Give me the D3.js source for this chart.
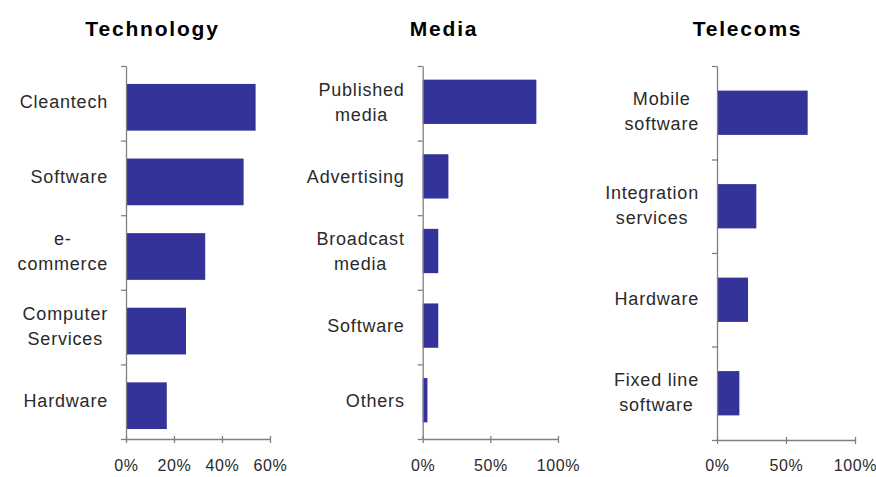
<!DOCTYPE html>
<html>
<head>
<meta charset="utf-8">
<script src="https://cdn.jsdelivr.net/npm/d3@7"></script>
<style>
  html, body { margin: 0; padding: 0; background: #fff; }
  svg { display: block; }
  .title { font-family: "Liberation Sans", Arial, sans-serif; font-weight: bold; font-size: 21px; letter-spacing: 1.8px; fill: #000; }
  .cat { font-family: "Liberation Sans", Arial, sans-serif; font-size: 18px; letter-spacing: 0.8px; fill: #2a2a2a; }
  .axis path, .axis line { stroke: #808080; stroke-width: 1.3px; }
  .axis text { font-family: "Liberation Sans", Arial, sans-serif; font-size: 16px; letter-spacing: 0.6px; fill: #2a2a2a; }
</style>
</head>
<body>
<svg id="chart" width="876" height="477"></svg>
<script>
// Sector breakdowns, shares in percent
const techCategories = ["Cleantech", "Software", "e-\ncommerce", "Computer\nServices", "Hardware"];
const techValues = [54, 49, 33, 25, 17];
const techTicks = [0, 20, 40, 60];

const mediaCategories = ["Published\nmedia", "Advertising", "Broadcast\nmedia", "Software", "Others"];
const mediaValues = [84, 19, 11.5, 11.5, 3.5];
const mediaTicks = [0, 50, 100];

const telecomCategories = ["Mobile\nsoftware", "Integration\nservices", "Hardware", "Fixed line\nsoftware"];
const telecomValues = [65.7, 28.5, 22.5, 16.2];
const telecomTicks = [0, 50, 100];

const panelTitles = ["Technology", "Media", "Telecoms"];

// Panel layout
const panels = [
  { title: panelTitles[0], cats: techCategories, vals: techValues, ticks: techTicks,
    x0: 126, x1: 270, top: 66, bottom: 439, titleX: 152.5, barH: 46.7, barShift: 4 },
  { title: panelTitles[1], cats: mediaCategories, vals: mediaValues, ticks: mediaTicks,
    x0: 422.7, x1: 558, top: 66, bottom: 439, titleX: 444, barH: 44.3, barShift: -1.5 },
  { title: panelTitles[2], cats: telecomCategories, vals: telecomValues, ticks: telecomTicks,
    x0: 717, x1: 855, top: 66, bottom: 440, titleX: 747.5, barH: 44.3, barShift: 0 }
];

const svg = d3.select("#chart");
const barColor = "#333399";
const lineH = 25;

panels.forEach(p => {
  const g = svg.append("g");
  const maxV = p.ticks[p.ticks.length - 1];
  const x = d3.scaleLinear().domain([0, maxV]).range([p.x0, p.x1]);
  const y = d3.scaleBand().domain(p.cats).range([p.top, p.bottom]).paddingInner(0).paddingOuter(0);
  const yEdges = d3.scaleLinear().domain([0, p.cats.length]).range([p.top, p.bottom]);

  // title
  g.append("text").attr("class", "title")
    .attr("x", p.titleX).attr("y", 36)
    .attr("text-anchor", "middle")
    .text(p.title);

  // bars
  g.selectAll("rect.bar").data(p.cats).join("rect")
    .attr("class", "bar")
    .attr("x", x(0))
    .attr("y", d => y(d) + (y.bandwidth() - p.barH) / 2 + p.barShift)
    .attr("width", (d, i) => x(p.vals[i]) - x(0))
    .attr("height", p.barH)
    .attr("fill", barColor);

  // category axis: ticks on the category boundaries
  const yAxis = d3.axisLeft(yEdges)
    .tickValues(d3.range(0, p.cats.length + 1))
    .tickFormat("")
    .tickSizeInner(5)
    .tickSizeOuter(0);
  g.append("g").attr("class", "axis")
    .attr("transform", `translate(${p.x0},0)`)
    .call(yAxis);

  // value axis with crossing tick marks
  const xAxis = d3.axisBottom(x)
    .tickValues(p.ticks)
    .tickFormat(d => d + "%")
    .tickSizeInner(4)
    .tickSizeOuter(0)
    .tickPadding(0);
  const xg = g.append("g").attr("class", "axis")
    .attr("transform", `translate(0,${p.bottom})`)
    .call(xAxis);
  xg.selectAll(".tick line").attr("y1", -3).attr("y2", 4);
  xg.selectAll(".tick text").attr("y", 32 - (p.bottom - 439)).attr("dy", null);

  // category labels: lines centred within a right-aligned block
  const labelRight = p.x0 - 18;
  p.cats.forEach(c => {
    const lines = c.split("\n");
    const t = g.append("text").attr("class", "cat").attr("text-anchor", "middle");
    const cy = y(c) + y.bandwidth() / 2 - 1.5;
    const firstBase = cy - (lines.length - 1) * lineH / 2 + 6.4;
    const spans = lines.map((ln, i) =>
      t.append("tspan").attr("y", firstBase + i * lineH).text(ln));
    const w = d3.max(spans, s => s.node().getComputedTextLength());
    spans.forEach(s => s.attr("x", labelRight - w / 2));
  });
});
</script>
</body>
</html>
